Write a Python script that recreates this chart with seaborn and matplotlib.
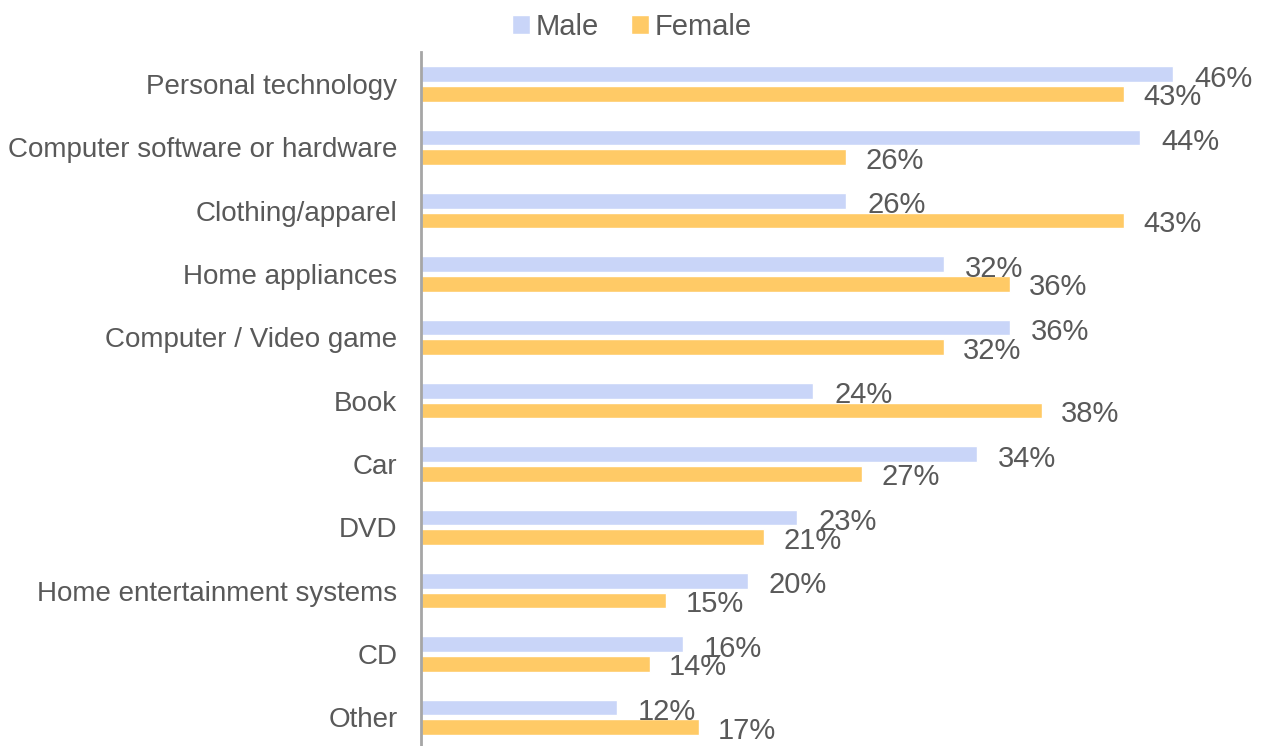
import matplotlib
matplotlib.use("Agg")
import matplotlib.pyplot as plt
import seaborn as sns
import pandas as pd

categories = [
    "Personal technology",
    "Computer software or hardware",
    "Clothing/apparel",
    "Home appliances",
    "Computer / Video game",
    "Book",
    "Car",
    "DVD",
    "Home entertainment systems",
    "CD",
    "Other",
]
male = [46, 44, 26, 32, 36, 24, 34, 23, 20, 16, 12]
female = [43, 26, 43, 36, 32, 38, 27, 21, 15, 14, 17]
series = ["Male", "Female"]

df = pd.DataFrame({
    "category": categories * 2,
    "gender": ["Male"] * len(categories) + ["Female"] * len(categories),
    "value": male + female,
})

sns.set_theme(style="white")
plt.rcParams["font.family"] = ["Liberation Sans", "DejaVu Sans"]

TEXT = "#595959"
palette = {"Male": "#C9D5F8", "Female": "#FFCA66"}

fig = plt.figure(figsize=(12.65, 7.46), dpi=100)
ax = fig.add_axes([421 / 1265, -0.004, 1 - 421 / 1265, 0.934])

sns.barplot(
    data=df, y="category", x="value", hue="gender", order=categories,
    hue_order=series, palette=palette, orient="h", width=0.62, gap=0.2,
    saturation=1, ax=ax, legend=True,
)

ax.set_xlim(0, 844 / 16.35)
ax.set_ylim(len(categories) - 0.5, -0.5)
ax.set_xlabel("")
ax.set_ylabel("")
ax.set_xticks([])
ax.tick_params(axis="y", length=0, pad=17, labelsize=20, labelcolor=TEXT)

for s in ["top", "right", "bottom"]:
    ax.spines[s].set_visible(False)
ax.spines["left"].set_color("#A6A6A6")
ax.spines["left"].set_linewidth(2)

# value labels next to each bar
for container, name in zip(ax.containers, series):
    dx, dy = (21, -4.5) if name == "Male" else (19, -3.5)
    for bar, v in zip(container, male if name == "Male" else female):
        ax.annotate(
            f"{v}%", xy=(bar.get_width(), bar.get_y() + bar.get_height() / 2),
            xytext=(dx, dy), textcoords="offset pixels", ha="left", va="center",
            fontsize=21, color=TEXT, annotation_clip=False,
        )

handles, labels = ax.get_legend_handles_labels()
ax.legend(
    handles, labels, loc="upper center", bbox_to_anchor=(632 / 1265, 1.006),
    bbox_transform=fig.transFigure, ncol=2, frameon=False, fontsize=21,
    labelcolor=TEXT, handlelength=0.6, handleheight=0.6, handletextpad=0.2,
    columnspacing=1.1, borderaxespad=0.2,
)

fig.savefig("out.png", dpi=100)
